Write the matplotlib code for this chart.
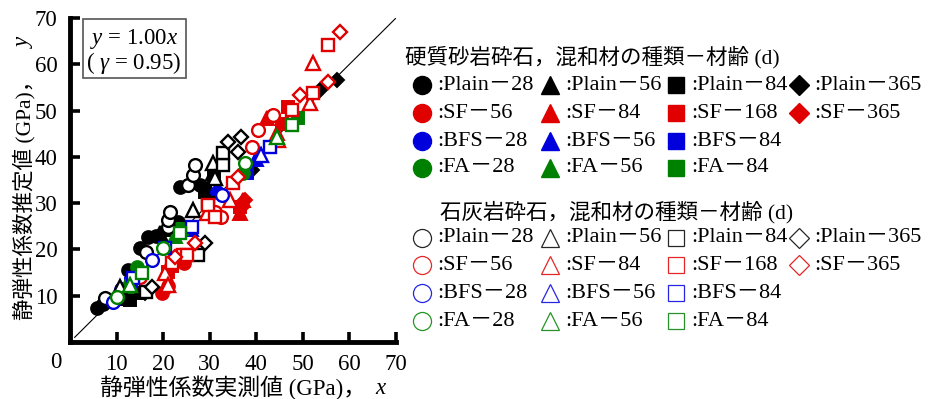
import matplotlib
matplotlib.use("Agg")
import matplotlib.pyplot as plt
from matplotlib.patches import Rectangle

plt.rcParams['font.family'] = ['Liberation Serif', 'Noto Sans CJK JP', 'DejaVu Sans']
plt.rcParams['mathtext.fontset'] = 'custom'
plt.rcParams['mathtext.rm'] = 'Liberation Serif'
plt.rcParams['mathtext.it'] = 'Liberation Serif:italic'

# ---- measured (x) vs. estimated (y) static modulus, GPa ----
# hard sandstone aggregate (filled symbols)
ss_plain28_x = [5.7, 7.0, 12.5, 15.0, 16.8, 18.5, 23.2, 23.6, 27.9]
ss_plain28_y = [7.3, 8.3, 15.6, 20.3, 22.7, 23.0, 26.0, 33.5, 33.9]
ss_plain56_x = [10.5, 19.3, 21.0, 29.5, 30.8]
ss_plain56_y = [9.5, 23.5, 24.5, 33.0, 36.5]
ss_plain84_x = [12.9, 14.5, 23.0, 29.0, 31.0]
ss_plain84_y = [9.1, 10.5, 25.0, 32.4, 36.0]
ss_plain365_x = [16.0, 39.0, 53.6, 57.3]
ss_plain365_y = [10.5, 37.1, 54.4, 56.6]
ss_sf56_x = [19.7, 21.0, 24.5]
ss_sf56_y = [10.6, 12.0, 17.0]
ss_sf84_x = [21.1, 36.5, 37.2, 42.2, 44.4]
ss_sf84_y = [12.3, 27.8, 30.7, 48.3, 45.1]
ss_sf168_x = [21.1, 22.0, 36.5, 45.5, 46.8]
ss_sf168_y = [15.1, 16.5, 29.2, 47.0, 50.8]
ss_sf365_x = [36.8, 37.6]
ss_sf365_y = [29.0, 30.7]
ss_bfs28_x = [11.0, 31.5]
ss_bfs28_y = [11.5, 32.5]
ss_bfs56_x = [26.0, 40.0]
ss_bfs56_y = [24.5, 39.5]
ss_bfs84_x = [13.0, 37.9]
ss_bfs84_y = [12.5, 36.5]
ss_fa28_x = [14.3, 37.2]
ss_fa28_y = [16.2, 36.5]
ss_fa56_x = [12.0, 22.5]
ss_fa56_y = [12.0, 23.0]
ss_fa84_x = [24.0, 49.0]
ss_fa84_y = [24.5, 48.3]

# limestone aggregate (open symbols)
ls_plain28_x = [7.5, 16.4, 21.0, 21.1, 21.5, 25.3, 26.4, 26.8]
ls_plain28_y = [9.5, 19.5, 24.8, 26.4, 28.1, 33.9, 36.1, 38.2]
ls_plain56_x = [10.7, 26.5, 30.8, 31.1]
ls_plain56_y = [11.9, 28.5, 38.6, 35.4]
ls_plain84_x = [16.4, 27.5, 29.7, 32.9, 32.9]
ls_plain84_y = [10.8, 18.8, 30.0, 38.2, 40.8]
ls_plain365_x = [17.5, 29.0, 34.0, 36.1, 36.8]
ls_plain365_y = [11.9, 21.4, 43.2, 41.0, 44.3]
ls_sf56_x = [15.0, 31.1, 32.5, 39.0, 40.4, 43.6]
ls_sf56_y = [14.0, 28.1, 27.0, 42.1, 45.8, 49.0]
ls_sf84_x = [20.4, 21.1, 29.4, 34.3, 44.7, 51.5, 52.1]
ls_sf84_y = [14.9, 12.3, 27.8, 30.7, 43.6, 51.6, 60.2]
ls_sf168_x = [21.9, 24.2, 25.1, 29.6, 31.1, 35.0, 47.6, 52.2, 55.4]
ls_sf168_y = [17.0, 18.8, 18.8, 29.6, 27.0, 34.3, 50.1, 53.8, 64.1]
ls_sf365_x = [22.5, 26.8, 36.1, 49.4, 55.4, 57.9]
ls_sf365_y = [18.4, 21.4, 35.6, 53.3, 56.2, 67.0]
ls_bfs28_x = [9.3, 17.5, 32.6]
ls_bfs28_y = [8.6, 17.7, 31.8]
ls_bfs56_x = [41.1]
ls_bfs56_y = [40.4]
ls_bfs84_x = [13.6, 20.4, 26.1, 42.9]
ls_bfs84_y = [13.8, 20.3, 24.9, 42.1]
ls_fa28_x = [10.0, 20.0, 37.6]
ls_fa28_y = [9.7, 20.3, 38.7]
ls_fa56_x = [12.9, 44.4]
ls_fa56_y = [12.3, 44.3]
ls_fa84_x = [15.4, 23.6, 47.6]
ls_fa84_y = [14.9, 23.5, 46.9]

fit_slope = 1.00
fit_r = 0.95
line_x = [1.0, 70.0]

ticks = [10, 20, 30, 40, 50, 60, 70]

BLACK, RED, BLUE, GREEN = '#000000', '#e00000', '#0000dd', '#008000'
MS = {'o': 9.2, '^': 10.0, 's': 9.0, 'D': 7.2}

sandstone = [
    ('o', BLACK, ss_plain28_x, ss_plain28_y), ('^', BLACK, ss_plain56_x, ss_plain56_y),
    ('s', BLACK, ss_plain84_x, ss_plain84_y), ('D', BLACK, ss_plain365_x, ss_plain365_y),
    ('o', RED, ss_sf56_x, ss_sf56_y), ('^', RED, ss_sf84_x, ss_sf84_y),
    ('s', RED, ss_sf168_x, ss_sf168_y), ('D', RED, ss_sf365_x, ss_sf365_y),
    ('o', BLUE, ss_bfs28_x, ss_bfs28_y), ('^', BLUE, ss_bfs56_x, ss_bfs56_y),
    ('s', BLUE, ss_bfs84_x, ss_bfs84_y),
    ('o', GREEN, ss_fa28_x, ss_fa28_y), ('^', GREEN, ss_fa56_x, ss_fa56_y),
    ('s', GREEN, ss_fa84_x, ss_fa84_y),
]
limestone = [
    ('o', BLACK, ls_plain28_x, ls_plain28_y), ('^', BLACK, ls_plain56_x, ls_plain56_y),
    ('s', BLACK, ls_plain84_x, ls_plain84_y), ('D', BLACK, ls_plain365_x, ls_plain365_y),
    ('o', RED, ls_sf56_x, ls_sf56_y), ('^', RED, ls_sf84_x, ls_sf84_y),
    ('s', RED, ls_sf168_x, ls_sf168_y), ('D', RED, ls_sf365_x, ls_sf365_y),
    ('o', BLUE, ls_bfs28_x, ls_bfs28_y), ('^', BLUE, ls_bfs56_x, ls_bfs56_y),
    ('s', BLUE, ls_bfs84_x, ls_bfs84_y),
    ('o', GREEN, ls_fa28_x, ls_fa28_y), ('^', GREEN, ls_fa56_x, ls_fa56_y),
    ('s', GREEN, ls_fa84_x, ls_fa84_y),
]

fig = plt.figure(figsize=(9.41, 3.99), dpi=100)
ax = fig.add_axes([70 / 941, 57 / 399, 326 / 941, 324 / 399])

ax.plot(line_x, [fit_slope * v for v in line_x], color='black', lw=0.8, zorder=1)

for m, c, xs, ys in sandstone:
    ax.plot(xs, ys, ls='none', marker=m, ms=MS[m], mfc=c, mec=c, mew=1.4, zorder=2)
for m, c, xs, ys in limestone:
    ax.plot(xs, ys, ls='none', marker=m, ms=MS[m], mfc='white', mec=c, mew=1.7, zorder=3)

ax.set_xlim(0, 70)
ax.set_ylim(0, 70)
ax.set_xticks(ticks)
ax.set_yticks(ticks)
ax.spines['top'].set_visible(False)
ax.spines['right'].set_visible(False)
for s in ('left', 'bottom'):
    ax.spines[s].set_linewidth(3.5)
ax.tick_params(direction='in', length=7, width=2.6, labelsize=16.5, pad=9)

# regression box
ax.add_patch(Rectangle((0.04, 0.815), 0.315, 0.182, transform=ax.transAxes,
                       fill=False, edgecolor='#555555', lw=1.2, zorder=5))
ax.text(0.06, 0.935, f'$y$ = {fit_slope:.2f}$x$', transform=ax.transAxes,
        fontsize=16.5, va='center', ha='left', zorder=6)
ax.text(0.05, 0.862, f'( $\\gamma$ = {fit_r:.2f})', transform=ax.transAxes,
        fontsize=16.5, va='center', ha='left', zorder=6)

# overlay in pixel units for axis titles, the origin label and the legend
ov = fig.add_axes([0, 0, 1, 1], facecolor='none')
ov.set_xlim(0, 941)
ov.set_ylim(399, 0)
ov.axis('off')
ov.text(56, 362, '0', fontsize=16.5, ha='center', va='center')

ov.text(100, 388, '静弾性係数実測値 (GPa)，', fontsize=16.5, ha='left', va='center')
ov.text(380, 388, 'x', fontsize=16.5, style='italic', ha='center', va='center')
ov.text(24, 320, '静弾性係数推定値 (GPa)，', fontsize=15.5, rotation=90,
        rotation_mode='anchor', ha='left', va='center')
ov.text(24, 43, 'y', fontsize=16.5, style='italic', rotation=90,
        ha='center', va='center')

title_ss = '硬質砂岩砕石，混和材の種類－材齢 (d)'
title_ls = '石灰岩砕石，混和材の種類－材齢 (d)'
legend_rows = [
    ['Plain－28', 'Plain－56', 'Plain－84', 'Plain－365'],
    ['SF－56', 'SF－84', 'SF－168', 'SF－365'],
    ['BFS－28', 'BFS－56', 'BFS－84'],
    ['FA－28', 'FA－56', 'FA－84'],
]
row_colors = [BLACK, RED, BLUE, GREEN]
col_markers = ['o', '^', 's', 'D']
LMS = {'o': 13.0, '^': 13.0, 's': 11.5, 'D': 10.0}
sym_x = [422, 550, 676, 799]
txt_x = [437, 565, 691, 814]

def draw_legend(title, tx, ty, rows_y, filled):
    ov.text(tx, ty, title, fontsize=15.5, ha='left', va='center')
    for r, labels in enumerate(legend_rows):
        c = row_colors[r]
        for k, lab in enumerate(labels):
            m = col_markers[k]
            if filled:
                ov.plot([sym_x[k]], [rows_y[r]], ls='none', marker=m, ms=LMS[m],
                        mfc=c, mec=c, mew=1.0)
            else:
                ov.plot([sym_x[k]], [rows_y[r]], ls='none', marker=m, ms=LMS[m],
                        mfc='white', mec=c, mew=0.9, alpha=0.85)
            ov.text(txt_x[k], rows_y[r], ':' + lab, fontsize=16, ha='left', va='center')

draw_legend(title_ss, 405, 57, [85, 113, 141, 168], True)
draw_legend(title_ls, 440, 212, [238, 265, 293, 321], False)

fig.savefig('out.png', dpi=100)
